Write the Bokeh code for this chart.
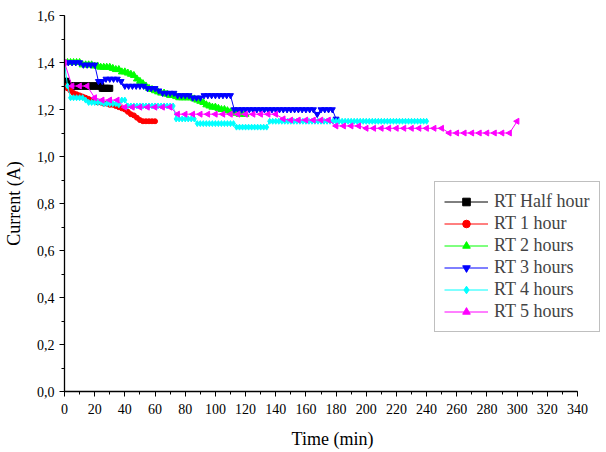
import numpy as np
from bokeh.plotting import figure
from bokeh.models import Range1d, SingleIntervalTicker, CustomJSTickFormatter, Legend
from bokeh.embed import file_html
from bokeh.resources import INLINE

# ---- data ----
half_t = list(range(0, 31, 1))
half_i = [1.32, 1.32, 1.31, 1.30, 1.30, 1.30, 1.30, 1.30, 1.30, 1.30,
          1.30, 1.30, 1.30, 1.30, 1.30, 1.30, 1.30, 1.30, 1.30, 1.30,
          1.30, 1.30, 1.30, 1.30, 1.30, 1.29, 1.29, 1.29, 1.29, 1.29, 1.29]

h1_t = list(range(0, 61, 2))
h1_i = [1.30, 1.29, 1.28, 1.27, 1.265, 1.26, 1.255, 1.25, 1.245, 1.24,
        1.235, 1.23, 1.23, 1.225, 1.225, 1.22, 1.22, 1.215, 1.21, 1.205,
        1.20, 1.19, 1.18, 1.175, 1.165, 1.155, 1.15, 1.15, 1.15, 1.15, 1.15]

h2_t = list(range(0, 121, 2))
h2_i = [1.40, 1.40, 1.40, 1.40, 1.40, 1.40, 1.39, 1.39, 1.39, 1.39,
        1.385, 1.385, 1.38, 1.38, 1.38, 1.38, 1.375, 1.37, 1.37, 1.36,
        1.36, 1.355, 1.35, 1.345, 1.33, 1.32, 1.31, 1.30, 1.29, 1.285,
        1.28, 1.275, 1.27, 1.27, 1.265, 1.26, 1.26, 1.255, 1.25, 1.25,
        1.25, 1.25, 1.25, 1.245, 1.24, 1.235, 1.23, 1.22, 1.215, 1.21,
        1.21, 1.205, 1.20, 1.20, 1.195, 1.19, 1.185, 1.185, 1.18, 1.18, 1.18]

h3_t = list(np.arange(0, 180.1, 2.5))
h3_i = [1.40, 1.40, 1.40, 1.40, 1.40, 1.39, 1.39, 1.39, 1.39, 1.32,
        1.32, 1.33, 1.33, 1.33, 1.33, 1.32, 1.30, 1.30, 1.30, 1.30,
        1.30, 1.30, 1.29, 1.29, 1.29, 1.28, 1.27, 1.27, 1.27, 1.27,
        1.26, 1.26, 1.26, 1.26, 1.25, 1.25, 1.25, 1.26, 1.26, 1.26,
        1.26, 1.26, 1.26, 1.26, 1.26, 1.20, 1.20, 1.20, 1.20, 1.20,
        1.20, 1.20, 1.20, 1.20, 1.20, 1.20, 1.20, 1.20, 1.20, 1.20,
        1.20, 1.20, 1.20, 1.20, 1.20, 1.20, 1.20, 1.18, 1.20, 1.20,
        1.20, 1.20, 1.16]

h4_t = list(range(0, 241, 2))
h4_i = [1.40, 1.30, 1.25, 1.25, 1.25, 1.25, 1.25, 1.24, 1.23, 1.23,
        1.23, 1.23, 1.23, 1.225, 1.225, 1.225, 1.225, 1.225, 1.22, 1.24,
        1.24, 1.215, 1.215, 1.215, 1.215, 1.215, 1.215, 1.215, 1.215, 1.215,
        1.215, 1.215, 1.215, 1.215, 1.215, 1.215, 1.215, 1.16, 1.16, 1.16,
        1.16, 1.16, 1.16, 1.16, 1.14, 1.14, 1.14, 1.14, 1.14, 1.14,
        1.14, 1.14, 1.14, 1.14, 1.14, 1.14, 1.14, 1.125, 1.125, 1.125,
        1.125, 1.125, 1.125, 1.125, 1.125, 1.125, 1.125, 1.125, 1.15, 1.15,
        1.15, 1.15, 1.15, 1.15, 1.15, 1.15, 1.15, 1.15, 1.15, 1.15,
        1.15, 1.15, 1.15, 1.15, 1.15, 1.15, 1.15, 1.15, 1.15, 1.15,
        1.15, 1.15, 1.15, 1.15, 1.15, 1.15, 1.15, 1.15, 1.15, 1.15,
        1.15, 1.15, 1.15, 1.15, 1.15, 1.15, 1.15, 1.15, 1.15, 1.15,
        1.15, 1.15, 1.15, 1.15, 1.15, 1.15, 1.15, 1.15, 1.15, 1.15, 1.15]

h5_t = list(range(0, 301, 5))
h5_i = [1.40, 1.30, 1.30, 1.30, 1.25, 1.24, 1.24, 1.24, 1.21, 1.21,
        1.21, 1.21, 1.21, 1.21, 1.21, 1.18, 1.18, 1.18, 1.18, 1.18,
        1.18, 1.18, 1.18, 1.18, 1.18, 1.18, 1.18, 1.18, 1.18, 1.16,
        1.155, 1.155, 1.155, 1.155, 1.155, 1.155, 1.13, 1.13, 1.13, 1.13,
        1.12, 1.12, 1.12, 1.12, 1.12, 1.12, 1.12, 1.12, 1.12, 1.12,
        1.12, 1.10, 1.10, 1.10, 1.10, 1.10, 1.10, 1.10, 1.10, 1.10, 1.15]

series = [
    ("RT Half hour", half_t, half_i, "#000000", "square", 6),
    ("RT 1 hour", h1_t, h1_i, "#FF0000", "circle", 5),
    ("RT 2 hours", h2_t, h2_i, "#00FF00", "triangle", 7),
    ("RT 3 hours", h3_t, h3_i, "#0000FF", "inverted_triangle", 6),
    ("RT 4 hours", h4_t, h4_i, "#00FFFF", "diamond", 6),
    ("RT 5 hours", h5_t, h5_i, "#FF00FF", "triangle", 6),
]

FONT = "'Liberation Serif', 'Times New Roman', serif"

W, H = 605, 451
FL, FR, FT, FB = 64, 600, 15, 392     # frame edges in page pixels
X340 = 577                            # pixel of x = 340
x_end = 340 * (FR - FL) / (X340 - FL)

p = figure(width=W, height=H, output_backend="svg", toolbar_location=None,
           x_range=Range1d(0, x_end), y_range=Range1d(0, 1.6),
           min_border_left=FL, min_border_right=W - FR,
           min_border_top=FT, min_border_bottom=H - FB)
p.xgrid.visible = False
p.ygrid.visible = False
p.outline_line_color = None

items = []
for name, t, i, col, mk, sz in series:
    r1 = p.line(t, i, line_color=col, line_width=1)
    ang = np.pi / 2 if name == "RT 5 hours" else 0
    r2 = p.scatter(t, i, marker=mk, size=sz, fill_color=col, line_color=col, angle=ang)
    items.append((name, [r1, r2]))

legend = Legend(items=items, location=(434 - FL, FB - 333))
legend.label_text_font = FONT
legend.label_text_font_size = "18px"
legend.glyph_width = 44
legend.glyph_height = 19
legend.label_height = 19
legend.spacing = 1
legend.padding = 9
legend.label_standoff = 6
legend.border_line_color = "#808080"
legend.border_line_width = 1.5
legend.background_fill_alpha = 1
p.add_layout(legend, "center")

p.xaxis.ticker = SingleIntervalTicker(interval=20, num_minor_ticks=2)
p.yaxis.ticker = SingleIntervalTicker(interval=0.2, num_minor_ticks=2)
p.xaxis.bounds = (0, 340)
p.yaxis.formatter = CustomJSTickFormatter(code="return tick.toFixed(1).replace('.', ',');")
p.xaxis.formatter = CustomJSTickFormatter(code="return tick.toFixed(0);")
for ax in (p.xaxis[0], p.yaxis[0]):
    ax.major_tick_in = 0
    ax.major_tick_out = 5
    ax.minor_tick_in = 0
    ax.minor_tick_out = 3
    ax.axis_line_color = "black"
    ax.axis_line_width = 1.3
    ax.major_tick_line_color = "black"
    ax.minor_tick_line_color = "black"
    ax.major_label_text_font = FONT
    ax.major_label_text_font_size = "14px"
    ax.major_label_text_color = "black"
    ax.axis_label_text_font = FONT
    ax.axis_label_text_font_size = "18px"
    ax.axis_label_text_font_style = "normal"
    ax.axis_label_text_color = "black"
p.xaxis.axis_label = "Time (min)"
p.yaxis.axis_label = "Current (A)"
p.xaxis.major_label_standoff = 7
p.xaxis.axis_label_standoff = 12
p.yaxis.axis_label_standoff = 10

open("out.html", "w").write(file_html(p, INLINE))
